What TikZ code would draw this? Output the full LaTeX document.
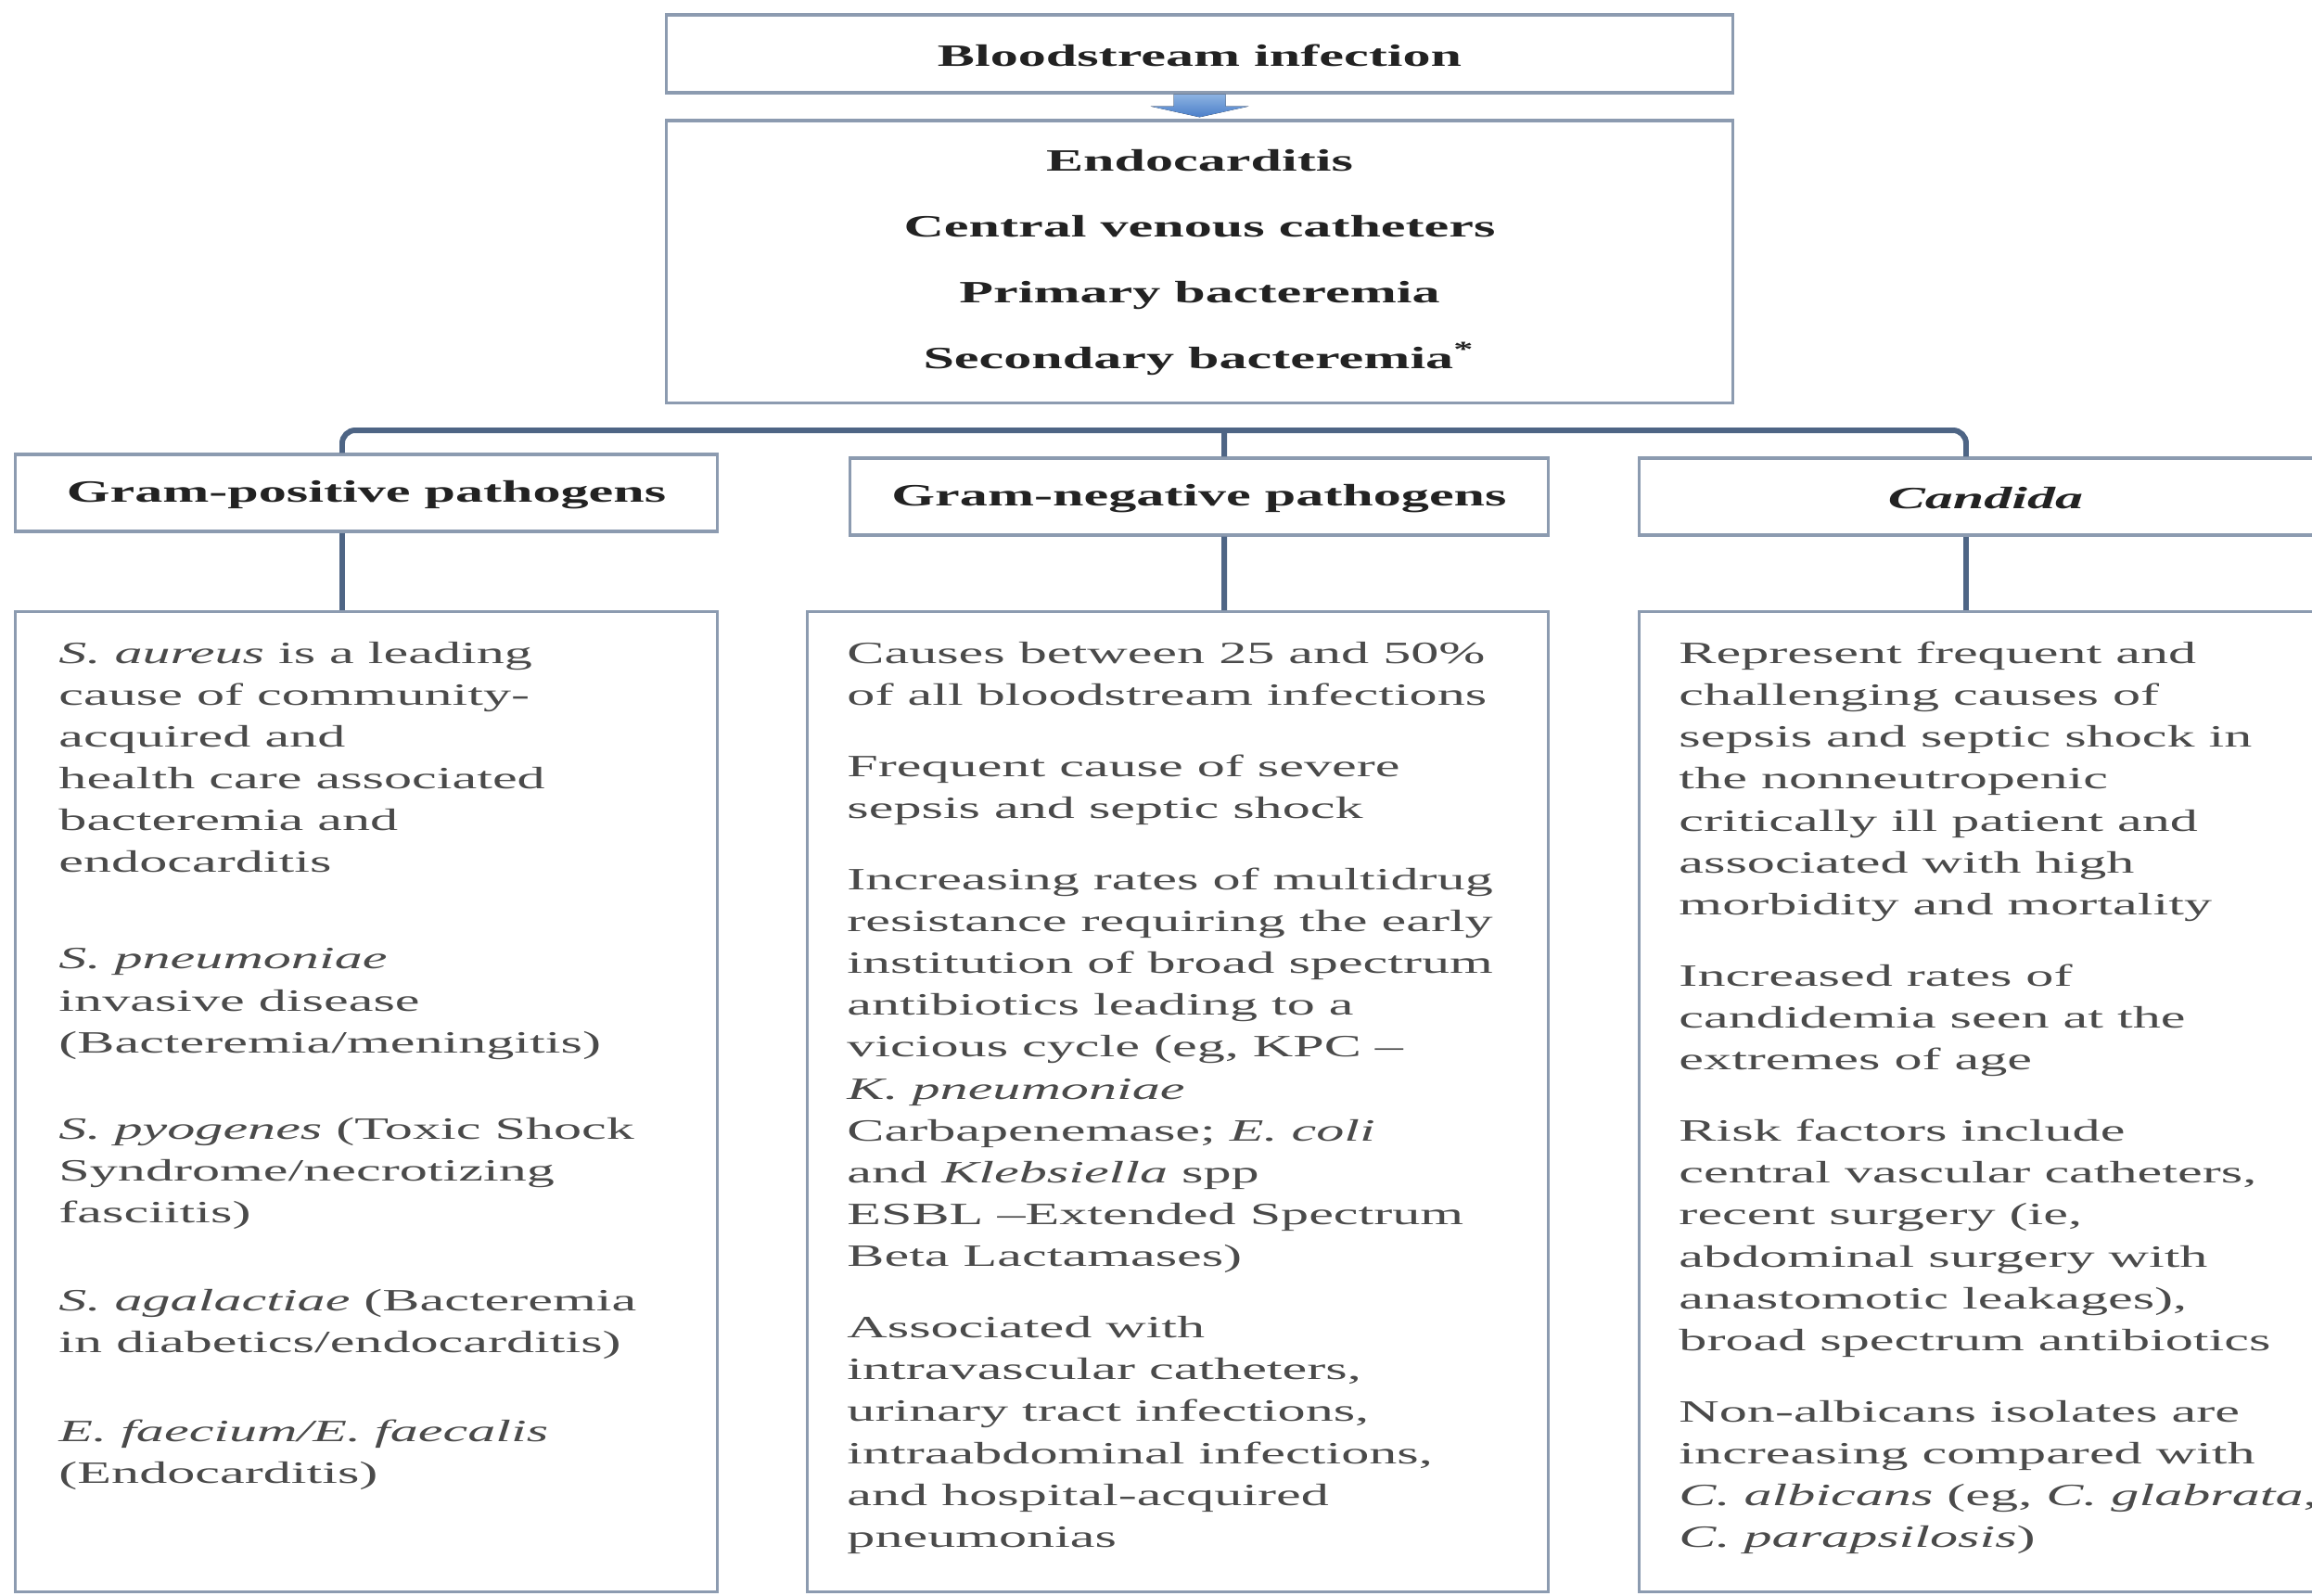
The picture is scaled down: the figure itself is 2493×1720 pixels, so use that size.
\documentclass[tikz,border=0pt]{standalone}
\usepackage{fontspec}
\setmainfont{Liberation Serif}
\usepackage{xcolor}
\usepackage{tikz}
\usetikzlibrary{calc}
\definecolor{frame}{HTML}{8C9BB0}
\definecolor{link}{HTML}{4E6585}
\definecolor{head}{HTML}{222222}
\definecolor{body}{HTML}{4A4A4A}
\definecolor{arrowtop}{HTML}{8DB3E2}
\definecolor{arrowbot}{HTML}{4A7EC8}
\tikzset{
  box/.style={draw=frame, line width=0.9pt, fill=white, inner sep=0pt},
  conn/.style={draw=link, line width=1.7pt},
  hdr/.style={text=head, inner sep=0pt, xscale=1.8,
    font=\fontsize{9.5}{12.85}\selectfont\bfseries},
  txt/.style={text=body, inner sep=0pt, xscale=1.8, align=left, anchor=north west,
    font=\fontsize{9.5}{12.85}\selectfont}
}
\begin{document}
\begin{tikzpicture}[x=0.01cm, y=-0.01cm]
  \path[use as bounding box, clip] (0,0) rectangle (2493,1720);

  % boxes
  \node[box, minimum width=11.49cm, minimum height=0.84cm] (bsi) at (1293.5,58) {};
  \node[box, minimum width=11.49cm, minimum height=3.04cm] (src) at (1293.5,282) {};
  \node[box, minimum width=7.56cm, minimum height=0.83cm] (gphead) at (395,531.5) {};
  \node[box, minimum width=7.52cm, minimum height=0.83cm] (gnhead) at (1293,535.5) {};
  \node[box, minimum width=7.46cm, minimum height=0.83cm] (cdhead) at (2141,535.5) {};
  \node[box, minimum width=7.56cm, minimum height=10.56cm] (gpbody) at (395,1188) {};
  \node[box, minimum width=7.98cm, minimum height=10.56cm] (gnbody) at (1270,1188) {};
  \node[box, minimum width=7.46cm, minimum height=10.56cm] (cdbody) at (2141,1188) {};

  % arrow and tree lines
  \fill[top color=arrowtop, bottom color=arrowbot]
    ($(bsi.south)+(-28,0)$) -- ($(bsi.south)+(-28,13)$) -- ($(bsi.south)+(-53,13)$)
    -- ($(src.north)+(0,-2)$) -- ($(bsi.south)+(53,13)$) -- ($(bsi.south)+(28,13)$)
    -- ($(bsi.south)+(28,0)$) -- cycle;
  \coordinate (bus) at (1320,464);
  \draw[conn, rounded corners=4pt] ([xshift=-0.26cm]gphead.north) |- (bus)
    -| ([xshift=-0.21cm]cdhead.north);
  \draw[conn] (bus) -- ([xshift=0.27cm]gnhead.north);
  \draw[conn] ([xshift=-0.26cm]gphead.south) -- ([xshift=-0.26cm]gpbody.north);
  \draw[conn] ([xshift=0.27cm]gnhead.south) -- ([xshift=0.5cm]gnbody.north);
  \draw[conn] ([xshift=-0.21cm]cdhead.south) -- ([xshift=-0.21cm]cdbody.north);

  % headings
  \node[hdr] (bsitxt) at (1293.5,60) {Bloodstream infection};
  \node[hdr, align=center] (srctxt) at (1293.5,283) {Endocarditis\\[7.4pt]
    Central venous catheters\\[7.4pt]
    Primary bacteremia\\[7.4pt]
    Secondary bacteremia\textsuperscript{*}};
  \node[hdr] (gptxt) at ([yshift=-0.02cm]gphead) {Gram-positive pathogens};
  \node[hdr] (gntxt) at ([yshift=-0.02cm]gnhead) {Gram-negative pathogens};
  \node[hdr] (cdtxt) at ([yshift=-0.02cm]cdhead) {\textit{Candida}};

  % details
  \node[txt] (gpinfo) at ([shift={(47,33)}]gpbody.north west) {%
    \textit{S. aureus} is a leading\\
    cause of community-\\
    acquired and\\
    health care associated\\
    bacteremia and\\
    endocarditis\\[16.7pt]
    \textit{S. pneumoniae}\\
    invasive disease\\
    (Bacteremia/meningitis)\\[13.6pt]
    \textit{S. pyogenes} (Toxic Shock\\
    Syndrome/necrotizing\\
    fasciitis)\\[14.2pt]
    \textit{S. agalactiae} (Bacteremia\\
    in diabetics/endocarditis)\\[14.2pt]
    \textit{E. faecium/E. faecalis}\\
    (Endocarditis)};
  \node[txt] (gninfo) at ([shift={(43,33)}]gnbody.north west) {%
    Causes between 25 and 50\%\\
    of all bloodstream infections\\[9pt]
    Frequent cause of severe\\
    sepsis and septic shock\\[9pt]
    Increasing rates of multidrug\\
    resistance requiring the early\\
    institution of broad spectrum\\
    antibiotics leading to a\\
    vicious cycle (eg, KPC --\\
    \textit{K. pneumoniae}\\
    Carbapenemase; \textit{E. coli}\\
    and \textit{Klebsiella} spp\\
    ESBL --Extended Spectrum\\
    Beta Lactamases)\\[9pt]
    Associated with\\
    intravascular catheters,\\
    urinary tract infections,\\
    intraabdominal infections,\\
    and hospital-acquired\\
    pneumonias};
  \node[txt] (cdinfo) at ([shift={(43,33)}]cdbody.north west) {%
    Represent frequent and\\
    challenging causes of\\
    sepsis and septic shock in\\
    the nonneutropenic\\
    critically ill patient and\\
    associated with high\\
    morbidity and mortality\\[9pt]
    Increased rates of\\
    candidemia seen at the\\
    extremes of age\\[9pt]
    Risk factors include\\
    central vascular catheters,\\
    recent surgery (ie,\\
    abdominal surgery with\\
    anastomotic leakages),\\
    broad spectrum antibiotics\\[9pt]
    Non-albicans isolates are\\
    increasing compared with\\
    \textit{C. albicans} (eg, \textit{C. glabrata},\\
    \textit{C. parapsilosis})};
\end{tikzpicture}
\end{document}
